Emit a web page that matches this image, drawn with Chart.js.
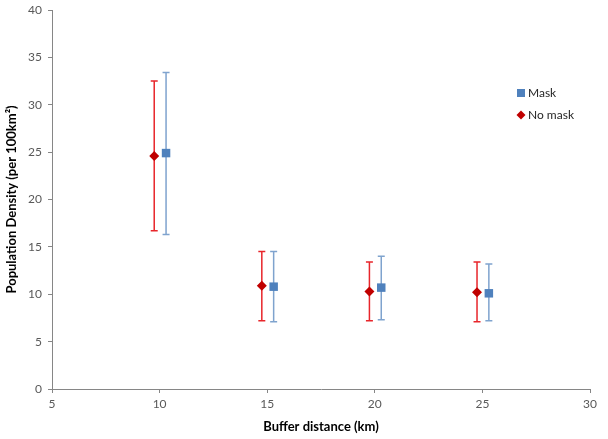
<!DOCTYPE html>
<html>
<head>
<meta charset="utf-8">
<script src="https://cdn.jsdelivr.net/npm/chart.js@4/dist/chart.umd.min.js"></script>
<style>
html,body{margin:0;padding:0;background:#fff;}
#wrap{width:608px;height:439px;}
</style>
</head>
<body>
<div id="wrap"><canvas id="c" width="608" height="439"></canvas></div>
<script>
const seriesNames = ["Mask", "No mask"];
const maskX = [10.3, 15.3, 20.3, 25.3];
const maskMean = [24.9, 10.8, 10.7, 10.1];
const maskHigh = [33.4, 14.5, 14.0, 13.2];
const maskLow = [16.3, 7.1, 7.3, 7.2];
const noMaskX = [9.75, 14.75, 19.75, 24.75];
const noMaskMean = [24.6, 10.9, 10.3, 10.2];
const noMaskHigh = [32.5, 14.5, 13.4, 13.4];
const noMaskLow = [16.7, 7.2, 7.2, 7.1];
const xTicks = [5, 10, 15, 20, 25, 30];
const yTicks = [0, 5, 10, 15, 20, 25, 30, 35, 40];

const FONT = "Lato, 'Open Sans', sans-serif";

function pts(xs, ys, hi, lo){
  return xs.map((x,i)=>({x:x, y:ys[i], hi:hi[i], lo:lo[i]}));
}

const errorBars = {
  id:'errorBars',
  beforeDatasetsDraw(chart){
    const ctx = chart.ctx, xs = chart.scales.x, ys = chart.scales.y;
    chart.data.datasets.forEach(ds=>{
      ctx.save();
      ctx.strokeStyle = ds.errColor;
      ctx.lineWidth = 1.5;
      ds.data.forEach(p=>{
        const px = xs.getPixelForValue(p.x);
        const yh = ys.getPixelForValue(p.hi);
        const yl = ys.getPixelForValue(p.lo);
        ctx.beginPath();
        ctx.moveTo(px, yh); ctx.lineTo(px, yl);
        ctx.moveTo(px-3.5, yh); ctx.lineTo(px+3.5, yh);
        ctx.moveTo(px-3.5, yl); ctx.lineTo(px+3.5, yl);
        ctx.stroke();
      });
      ctx.restore();
    });
  }
};

const innerLegend = {
  id:'innerLegend',
  afterDraw(chart){
    const ctx = chart.ctx;
    ctx.save();
    ctx.font = "12px " + FONT;
    ctx.textBaseline = "middle";
    ctx.textAlign = "left";
    ctx.fillStyle = "#4F81BD";
    ctx.fillRect(517, 89, 8, 8);
    ctx.fillStyle = "#262626";
    ctx.fillText(seriesNames[0], 528, 93);
    ctx.fillStyle = "#C00000";
    ctx.beginPath();
    ctx.moveTo(521, 110.5); ctx.lineTo(525.5, 115); ctx.lineTo(521, 119.5); ctx.lineTo(516.5, 115);
    ctx.closePath(); ctx.fill();
    ctx.fillStyle = "#262626";
    ctx.fillText(seriesNames[1], 528, 115);
    ctx.restore();
  }
};

new Chart(document.getElementById('c'), {
  type:'scatter',
  data:{
    datasets:[
      {label:seriesNames[1], data:pts(noMaskX, noMaskMean, noMaskHigh, noMaskLow),
       pointStyle:'rectRot', pointRadius:5, backgroundColor:'#C00000', borderColor:'#C00000', borderWidth:0,
       errColor:'#E8262B'},
      {label:seriesNames[0], data:pts(maskX, maskMean, maskHigh, maskLow),
       pointStyle:'rect', pointRadius:6, backgroundColor:'#4F81BD', borderColor:'#4F81BD', borderWidth:0,
       errColor:'#7FA3CE'}
    ]
  },
  options:{
    responsive:false,
    animation:false,
    layout:{padding:{top:0, right:18, left:0, bottom:0}},
    plugins:{legend:{display:false}, tooltip:{enabled:false}},
    scales:{
      x:{
        type:'linear', min:5, max:30,
        afterBuildTicks(s){ s.ticks = xTicks.map(v=>({value:v})); },
        afterFit(s){ s.height = 50; },
        grid:{display:true, drawOnChartArea:false, drawTicks:true, tickLength:4, color:'#868686'},
        border:{color:'#868686', width:1},
        ticks:{color:'#595959', font:{family:FONT, size:12}, padding:4, maxRotation:0},
        title:{display:true, text:'Buffer distance (km)', color:'#000', font:{family:FONT, size:13, weight:'bold'}, padding:{top:2}}
      },
      y:{
        type:'linear', min:0, max:40,
        afterBuildTicks(s){ s.ticks = yTicks.map(v=>({value:v})); },
        afterFit(s){ s.width = 52; s.paddingTop = 10; },
        grid:{display:true, drawOnChartArea:false, drawTicks:true, tickLength:4, color:'#868686'},
        border:{color:'#868686', width:1},
        ticks:{color:'#595959', font:{family:FONT, size:12}, padding:6},
        title:{display:true, text:'Population Density (per 100km²)', color:'#000', font:{family:FONT, size:13, weight:'bold'}, padding:{bottom:2}}
      }
    }
  },
  plugins:[errorBars, innerLegend]
});
</script>
</body>
</html>
